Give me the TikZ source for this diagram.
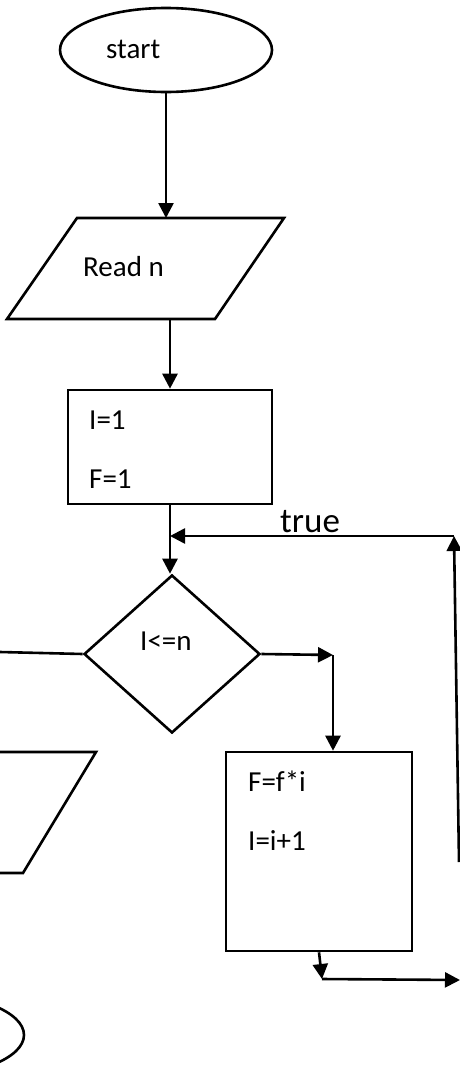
\documentclass[tikz,border=0pt]{standalone}
\usepackage{fontspec}
\setmainfont{Carlito}
\usepackage{tikz}
\usetikzlibrary{arrows.meta,positioning,shapes.geometric}

\tikzset{
  box/.style={draw, line width=2.6pt, inner sep=0pt},
  txt/.style={anchor=base west, inner sep=0pt, font=\fontsize{29}{34}\selectfont},
  arr/.style={line width=2.6pt, -{Triangle[length=15pt,width=15pt]}},
  plain/.style={line width=2.6pt}
}

\begin{document}
\begin{tikzpicture}[x=1pt,y=-1pt]
      \useasboundingbox (0,0) rectangle (460,1068);
      \clip (0,0) rectangle (460,1068);
      % shapes
      \node[box, ellipse, minimum width=212pt, minimum height=84pt] (start) at (166,50) {};
      \draw[box, line join=miter] (77,218) coordinate (read-tl) -- (284,218) -- (215,319) -- (7,319) coordinate (read-bl) -- cycle;
      \coordinate (read-top) at (168,218);
      \coordinate (read-bot) at (168,319);
      \node[box, rectangle, minimum width=204pt, minimum height=114pt] (init) at (170,447) {};
      \node[box, diamond, minimum width=176pt, minimum height=158pt] (test) at (172,654) {};
      \node[box, rectangle, minimum width=186pt, minimum height=199pt] (calc) at (319,851.5) {};
      \draw[box] (-110,752) -- (96,752) coordinate (print-tr) -- (23,873) -- (-180,873);
      \node[box, ellipse, minimum width=212pt, minimum height=84pt] (stop) at (-82,1035) {};
      % texts
      \node[txt] (start-t) at (106,58) {start};
      \node[txt] (read-t) at (83,276) {Read n};
      \node[txt] (init-i) at (89,429) {I=1};
      \node[txt] (init-f) at (89,488) {F=1};
      \node[txt] (test-t) at (140,650) {I<=n};
      \node[txt] (calc-f) at (248,791) {F=f*i};
      \node[txt] (calc-i) at (248,850) {I=i+1};
      \node[txt, font=\fontsize{35}{42}\selectfont] (true-t) at (280,532) {true};
      % connectors
      \coordinate (loop-bot) at (459,862);
      \coordinate (loop-top) at (454,536);
      \coordinate (exit) at (0,652);
      \coordinate (turn) at (333,655);
      \coordinate (drop) at (322,979);
      \coordinate (out) at (460,980);
      \draw[arr] (start.south) -- (start.south |- read-top);
      \draw[arr] (init.north |- read-bot) -- (init.north);
      \draw[arr] (init.south) -- (init.south |- test.north);
      \draw[arr] (loop-bot) -- (loop-top);
      \draw[arr] (loop-top) -- (init.south |- loop-top);
      \draw[plain] (test.west) -- (exit);
      \draw[arr] (test.east) -- (turn);
      \draw[arr] (turn) -- (turn |- calc.north);
      \draw[arr] (calc.south) -- (drop);
      \draw[arr] (drop) -- (out);
\end{tikzpicture}
\end{document}
